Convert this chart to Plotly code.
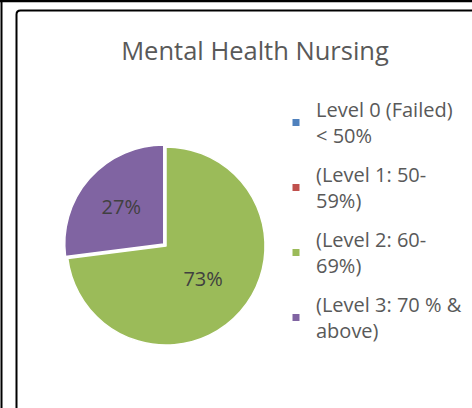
import plotly.graph_objects as go

# ---- data ----
categories = [
    "Level 0 (Failed)<br>< 50%",
    "(Level 1: 50-<br>59%)",
    "(Level 2: 60-<br>69%)",
    "(Level 3: 70 % &<br>above)",
]
values = [0, 0, 73, 27]
colors = ["#4F81BD", "#C0504D", "#9BBB59", "#8064A2"]
title_text = "Mental Health Nursing"

W, H = 472, 408
FONT = "Open Sans"

fig = go.Figure()
fig.add_trace(go.Pie(
    labels=categories,
    values=values,
    sort=False,
    direction="clockwise",
    rotation=0,
    marker=dict(colors=colors, line=dict(color="white", width=1.5)),
    pull=[0, 0, 0, 0.03],
    textinfo="percent",
    textposition="inside",
    insidetextorientation="horizontal",
    textfont=dict(family=FONT, size=20, color="#404040"),
    domain=dict(x=[(166 - 102) / W, (166 + 102) / W],
                y=[1 - (246 + 102) / H, 1 - (246 - 102) / H]),
    hoverinfo="label+percent",
    showlegend=False,
))

# legend entries (one per category, square markers like the original)
for i, (name, col) in enumerate(zip(categories, colors)):
    fig.add_trace(go.Scatter(
        x=[None], y=[None], mode="markers", name=name,
        marker=dict(symbol="square", size=7, color=col),
        legendgroup=f"g{i}", showlegend=True, hoverinfo="skip",
    ))

def px(x):
    return x / W

def py(y):
    return 1 - y / H

r = 4
x0, y0 = 16.5, 10.5
path = (f"M {px(x0)},{py(H + 5)} L {px(x0)},{py(y0 + r)} "
        f"Q {px(x0)},{py(y0)} {px(x0 + r)},{py(y0)} L {px(W + 5)},{py(y0)}")

fig.update_layout(
    width=W, height=H,
    margin=dict(l=0, r=0, t=0, b=0),
    paper_bgcolor="white",
    plot_bgcolor="white",
    xaxis=dict(visible=False),
    yaxis=dict(visible=False),
    title=dict(text=title_text, x=255 / W, xanchor="center", y=py(51), yanchor="middle",
               font=dict(family=FONT, size=25.5, color="#595959")),
    showlegend=True,
    legend=dict(x=px(276), xanchor="left", y=py(90), yanchor="top",
                font=dict(family=FONT, size=20, color="#595959"),
                bgcolor="rgba(0,0,0,0)", traceorder="grouped",
                tracegroupgap=10, itemwidth=30),
    shapes=[
        dict(type="rect", xref="paper", yref="paper", x0=0, x1=1, y0=py(2.2), y1=1,
             line=dict(width=0), fillcolor="black", layer="above"),
        dict(type="rect", xref="paper", yref="paper", x0=px(0.5), x1=px(2.5), y0=0, y1=1,
             line=dict(width=0), fillcolor="black", layer="above"),
        dict(type="path", xref="paper", yref="paper", path=path,
             line=dict(color="black", width=2)),
    ],
)

fig.write_html("out.html",
               config={"displayModeBar": False},
               post_script="document.body.style.margin='0';document.body.style.overflow='hidden';")
